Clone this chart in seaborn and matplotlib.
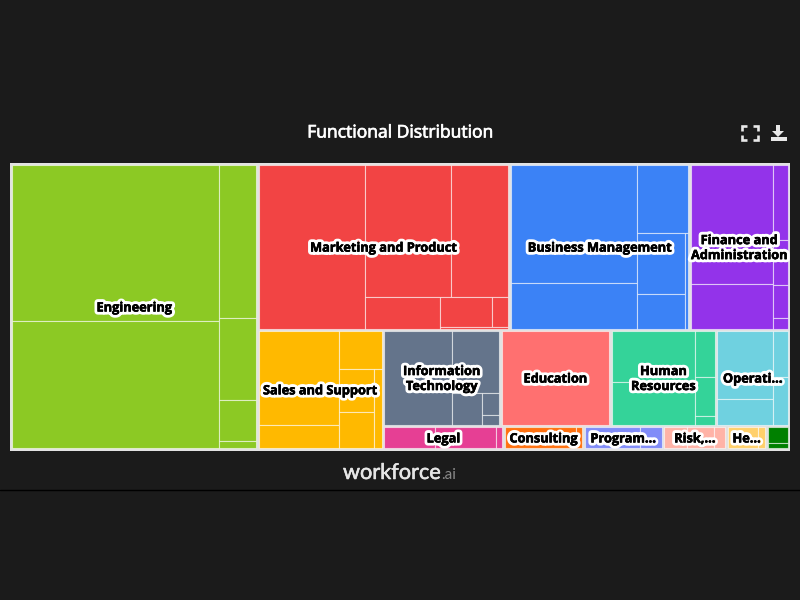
"""Functional distribution treemap, dark dashboard card."""

import matplotlib.pyplot as plt
import seaborn as sns
from matplotlib import patheffects
from matplotlib.patches import Polygon, Rectangle

# values per group, nesting follows the slices of the treemap
engineering = [[32850, 26810], [5790, 3100, 1555, 265]]
marketing = [17810, [[11620, 7700], [2460, [[1565, 520], 140]]]]
business = [[15260, 5950], [3560, [[2990, 1715], 330]]]
finance = [[10120, 3830], [1165, 700, 515, 170]]
sales = [[7870, 1925], [1705, [[1575, 1320], 660]]]
information_technology = [6615, [3055, [1010, [393, 180]]]]
education = [10590]
human_resources = [[4440, 3750], [965, 820, 190]]
operations = [[3970, 1520], [735, 765]]
legal = [1213, 1480, 146]
consulting = [1740, 148]
program = [1340, 535]
risk = [565, 665, 270]
health = [765, 180]
other = [[390, 140]]

group_values = {
    "Engineering": engineering,
    "Marketing and Product": marketing,
    "Business Management": business,
    "Finance and\nAdministration": finance,
    "Sales and Support": sales,
    "Information\nTechnology": information_technology,
    "Education": education,
    "Human\nResources": human_resources,
    "Operati...": operations,
    "Legal": legal,
    "Consulting": consulting,
    "Program...": program,
    "Risk,...": risk,
    "He...": health,
    "": other,
}
group_colors = [
    "#8CC924", "#F24444", "#3B82F6", "#9333EA", "#FFB900",
    "#64748B", "#FF7070", "#34D399", "#6FD1E0", "#E63F94",
    "#FF7110", "#818CF8", "#FFB3A7", "#FFD06B", "#008000",
]

# how the groups are sliced, rows and columns alternate
group_names = list(group_values)
group_layout = [
    group_names[0],
    [
        group_names[1:4],
        [group_names[4], [group_names[5:9], group_names[9:15]]],
    ],
]

BACKGROUND = "#1B1B1B"
FRAME = "#E2E2E2"


def total(node):
    if isinstance(node, str):
        return total(group_values[node])
    if isinstance(node, list):
        return sum(total(child) for child in node)
    return node


def slice_rects(node, x, y, w, h, across=True):
    """Yield (node, x, y, w, h) for every leaf, alternating the slice direction."""
    if not isinstance(node, list):
        yield node, x, y, w, h
        return
    node_total = total(node)
    for child in node:
        share = total(child) / node_total
        if across:
            yield from slice_rects(child, x, y, w * share, h, False)
            x += w * share
        else:
            yield from slice_rects(child, x, y, w, h * share, True)
            y += h * share


sns.set_theme(style="dark", rc={"figure.facecolor": BACKGROUND, "axes.facecolor": BACKGROUND})
plt.rcParams["font.family"] = ["Open Sans", "DejaVu Sans"]

fig = plt.figure(figsize=(8, 6), dpi=100)
ax = fig.add_axes([0, 0, 1, 1])
ax.set_xlim(0, 800)
ax.set_ylim(600, 0)
ax.axis("off")

palette = dict(zip(group_names, sns.color_palette(group_colors)))
halo = [
    patheffects.withStroke(linewidth=4.6, foreground="white"),
    patheffects.withStroke(linewidth=0.35, foreground="black"),
]

ax.add_patch(Rectangle((10, 163), 780, 288, facecolor=FRAME, edgecolor="none"))

for name, gx, gy, gw, gh in slice_rects(group_layout, 11, 164, 778, 285.5):
    inset = 1.2
    gx, gy, gw, gh = gx + inset, gy + inset, gw - 2 * inset, gh - 2 * inset
    for _, x, y, w, h in slice_rects(group_values[name], gx, gy, gw, gh):
        ax.add_patch(Rectangle((x, y), w, h, facecolor=palette[name],
                               edgecolor=(1, 1, 1, 0.55), linewidth=0.8))
    ax.text(gx + gw / 2, gy + gh / 2 + 1.2, name, ha="center", va="center", color="black",
            fontsize=9.2, fontweight="bold", linespacing=1.2, path_effects=halo, zorder=5)

ax.text(400.5, 133.5, "Functional Distribution", ha="center", va="center",
        color="white", fontsize=12.6, fontweight="medium",
        path_effects=[patheffects.withStroke(linewidth=0.5, foreground="white")])

# fullscreen icon
for cx, cy, dx, dy in [(742, 126, 1, 1), (757.5, 126, -1, 1), (742, 139.5, 1, -1), (757.5, 139.5, -1, -1)]:
    ax.plot([cx + 5 * dx, cx, cx], [cy, cy, cy + 4.5 * dy], color="#E8E8E8", lw=1.9,
            solid_capstyle="butt", solid_joinstyle="miter")

# download icon
ax.add_patch(Polygon([(776, 125), (780, 125), (780, 131), (784, 131), (778, 137), (772, 131), (776, 131)],
                     facecolor="#E8E8E8", edgecolor="none"))
ax.add_patch(Rectangle((771, 137), 15.5, 3.5, facecolor="#E8E8E8", edgecolor="none"))

# wordmark
ax.text(343, 473, "workforce", ha="left", va="center", color="#E6E6E6",
        fontsize=15.6, family="Lato",
        path_effects=[patheffects.withStroke(linewidth=0.4, foreground="#E6E6E6")])
ax.text(441, 475, ".ai", ha="left", va="center", color="#8A8A8A",
        fontsize=11, family="Lato")
ax.plot([0, 800], [489.5, 489.5], color="black", lw=1)

fig.savefig("out.png", dpi=100, facecolor=BACKGROUND)
